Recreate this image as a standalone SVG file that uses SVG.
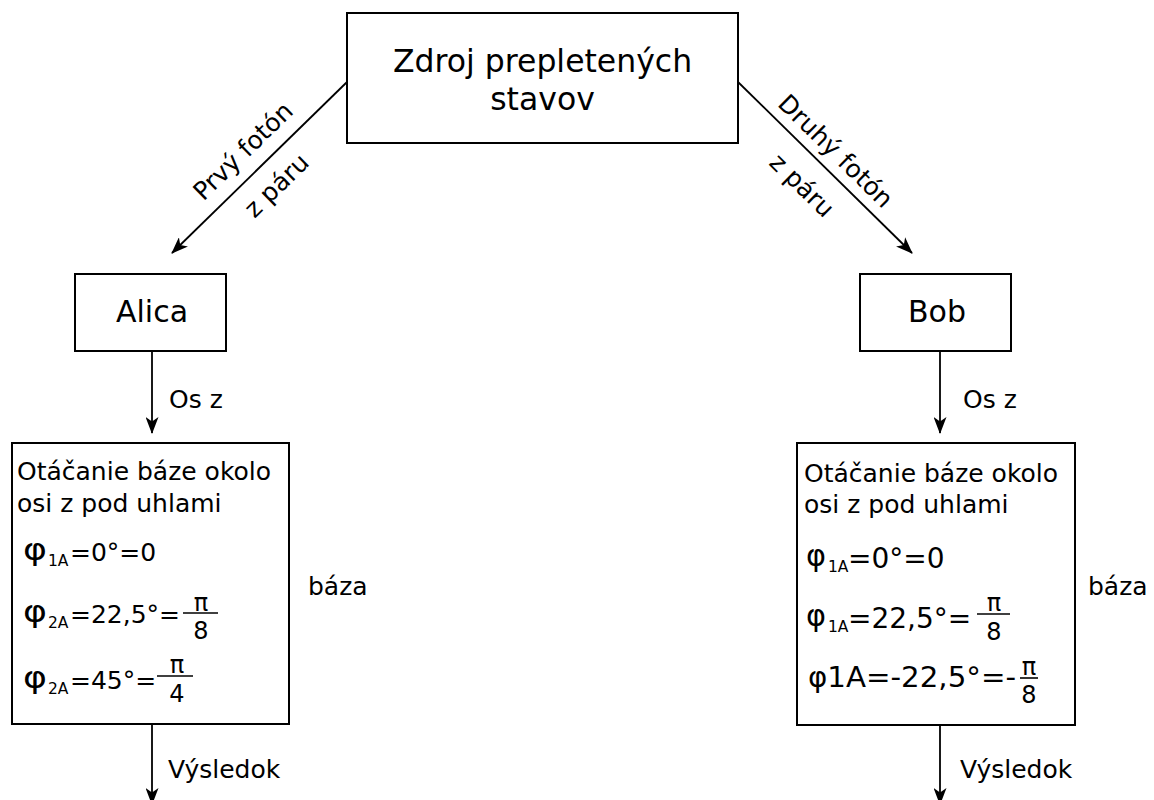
<svg xmlns="http://www.w3.org/2000/svg" width="1154" height="800" viewBox="0 0 1154 800">
<style>
.box{fill:#fff;stroke:#000;stroke-width:2}
.ln{fill:none;stroke:#000;stroke-width:1.8;marker-end:url(#ah)}
text{font-family:"DejaVu Sans","Verdana",sans-serif;fill:#000}
.t31{font-size:31.5px}
.t30{font-size:30px}
.t25{font-size:25px}
.eqL{font-size:25px}
.phiL{font-size:30px}
.eqR{font-size:28px}
.phiR{font-size:30px}
.sub{font-size:15.5px}
.fr{font-size:24px}
.fl{stroke:#000;stroke-width:1.6}
</style>
<defs>
<marker id="ah" viewBox="0 0 17 13" refX="16" refY="6.5" markerWidth="17" markerHeight="13" orient="auto" markerUnits="userSpaceOnUse">
<path d="M0,0 L17,6.5 L0,13 L4.5,6.5 z" fill="#000"/>
</marker>
</defs>
<rect width="1154" height="800" fill="#fff"/>
<g id="connectors">
<line class="ln" x1="347" y1="82" x2="172" y2="253"/>
<line class="ln" x1="738" y1="82" x2="912" y2="253"/>
<line class="ln" x1="152" y1="351" x2="152" y2="433"/>
<line class="ln" x1="940" y1="351" x2="940" y2="433"/>
<line class="ln" x1="152" y1="724" x2="152" y2="804"/>
<line class="ln" x1="940" y1="725" x2="940" y2="804"/>
<g transform="translate(259.5,168) rotate(-44.3)">
<text class="t25" x="0" y="-15" text-anchor="middle">Prvý fotón</text>
<text class="t25" x="0" y="33" text-anchor="middle">z páru</text>
</g>
<g transform="translate(822,165) rotate(44.5)">
<text class="t25" x="0" y="-11" text-anchor="middle">Druhý fotón</text>
<text class="t25" x="0" y="37" text-anchor="middle">z páru</text>
</g>
<text class="t25" x="169" y="408">Os z</text>
<text class="t25" x="963" y="408">Os z</text>
<text class="t25" x="168" y="778">Výsledok</text>
<text class="t25" x="960" y="778">Výsledok</text>
<text class="t25" x="308" y="595">báza</text>
<text class="t25" x="1088" y="595">báza</text>
</g>
<g id="source">
<rect class="box" x="347" y="13" width="391" height="130"/>
<text class="t31" x="542.5" y="72" text-anchor="middle">Zdroj prepletených</text>
<text class="t31" x="542.5" y="110" text-anchor="middle">stavov</text>
</g>
<g id="alica">
<rect class="box" x="75" y="274" width="151" height="77"/>
<text class="t30" x="152" y="322" text-anchor="middle">Alica</text>
</g>
<g id="bob">
<rect class="box" x="860" y="274" width="151" height="77"/>
<text class="t30" x="937" y="322" text-anchor="middle">Bob</text>
</g>
<g id="alica-basis">
<rect class="box" x="12" y="443" width="277" height="281"/>
<text class="t25" x="17" y="480">Otáčanie báze okolo</text>
<text class="t25" x="17" y="512">osi z pod uhlami</text>
<text class="phiL" x="23" y="560" textLength="24" lengthAdjust="spacingAndGlyphs">φ</text><text class="sub" x="48" y="566">1A</text><text class="eqL" x="70" y="561">=0°=0</text>
<text class="phiL" x="23" y="622" textLength="24" lengthAdjust="spacingAndGlyphs">φ</text><text class="sub" x="48" y="628">2A</text><text class="eqL" x="70" y="623">=22,5°=</text>
<line class="fl" x1="183" y1="613" x2="218" y2="613"/>
<text class="fr" x="201" y="611" text-anchor="middle">π</text>
<text class="fr" x="201" y="639" text-anchor="middle">8</text>
<text class="phiL" x="23" y="688" textLength="24" lengthAdjust="spacingAndGlyphs">φ</text><text class="sub" x="48" y="694">2A</text><text class="eqL" x="70" y="689">=45°=</text>
<line class="fl" x1="157" y1="676" x2="193" y2="676"/>
<text class="fr" x="177" y="673" text-anchor="middle">π</text>
<text class="fr" x="177" y="702" text-anchor="middle">4</text>
</g>
<g id="bob-basis">
<rect class="box" x="797" y="443" width="278" height="282"/>
<text class="t25" x="804" y="482">Otáčanie báze okolo</text>
<text class="t25" x="804" y="513">osi z pod uhlami</text>
<text class="phiR" x="806" y="566" textLength="20" lengthAdjust="spacingAndGlyphs">φ</text><text class="sub" x="828" y="572">1A</text><text class="eqR" x="848" y="568">=0°=0</text>
<text class="phiR" x="806" y="626" textLength="20" lengthAdjust="spacingAndGlyphs">φ</text><text class="sub" x="828" y="632">1A</text><text class="eqR" x="848" y="628">=22,5°=</text>
<line class="fl" x1="977" y1="614" x2="1010" y2="614"/>
<text class="fr" x="994" y="611" text-anchor="middle">π</text>
<text class="fr" x="994" y="640" text-anchor="middle">8</text>
<text class="eqR" x="808" y="687" textLength="208" lengthAdjust="spacingAndGlyphs">φ1A=-22,5°=-</text>
<line class="fl" x1="1020" y1="678" x2="1038" y2="678"/>
<text class="fr" x="1029" y="675" text-anchor="middle">π</text>
<text class="fr" x="1029" y="703" text-anchor="middle">8</text>
</g>
</svg>
